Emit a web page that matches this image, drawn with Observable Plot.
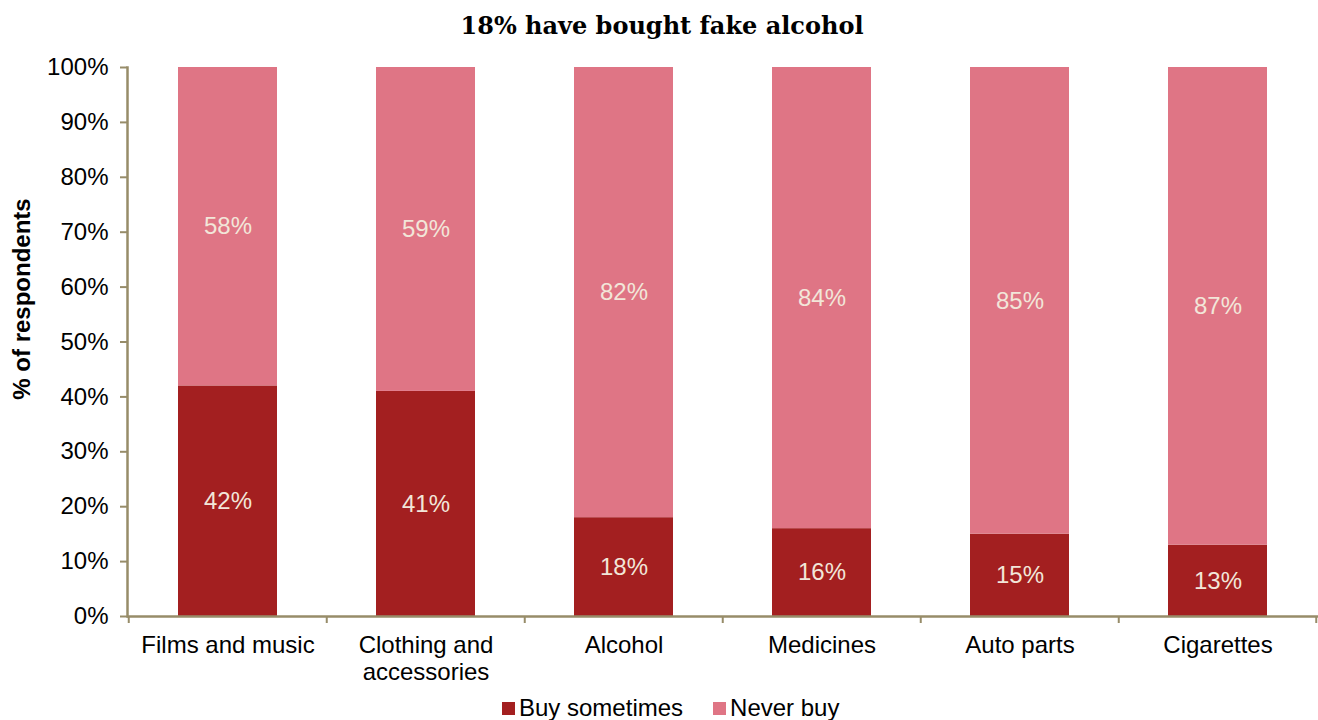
<!DOCTYPE html>
<html>
<head>
<meta charset="utf-8">
<script src="https://cdn.jsdelivr.net/npm/d3@7"></script>
<script src="https://cdn.jsdelivr.net/npm/@observablehq/plot@0.6"></script>
<style>
  html, body { margin: 0; padding: 0; background: #fff; }
  #wrap { position: relative; width: 1318px; height: 720px; overflow: hidden; font-family: "Liberation Sans", Arial, sans-serif; }
  #title { position: absolute; left: 3px; top: 8px; width: 1318px; text-align: center; font-family: "DejaVu Serif", Georgia, serif; font-weight: bold; font-size: 24px; line-height: 36px; color: #000; }
  #chart { position: absolute; left: 0; top: 50px; }
  #ylabel { position: absolute; left: 22px; top: 299px; transform: translate(-50%, -50%) rotate(-90deg); white-space: nowrap; font-weight: bold; font-size: 24px; color: #000; }
  #legend { position: absolute; left: 502px; top: 694px; display: flex; align-items: center; font-size: 24px; line-height: 28px; color: #000; }
  .item { display: flex; align-items: center; margin-right: 30px; }
  .sw { width: 13px; height: 13px; margin-right: 4px; }
</style>
</head>
<body>
<div id="wrap">
  <div id="title"></div>
  <div id="ylabel"></div>
  <div id="chart"></div>
  <div id="legend"></div>
</div>
<script>
const titleText = "18% have bought fake alcohol";
const yLabelText = "% of respondents";
const categories = ["Films and music", "Clothing and\naccessories", "Alcohol", "Medicines", "Auto parts", "Cigarettes"];
const buySometimes = [42, 41, 18, 16, 15, 13];
const neverBuy = [58, 59, 82, 84, 85, 87];
const seriesNames = ["Buy sometimes", "Never buy"];
const seriesColors = ["#A31F20", "#DF7585"];
const yTicks = [0, 10, 20, 30, 40, 50, 60, 70, 80, 90, 100];

const axisColor = "#978C69";
const labelColor = "#F2E6D9";
const W = 1318, H = 640, mL = 127, mR = 0, mT = 17, mB = 74;
const step = (W - mL - mR) / categories.length;

const data = categories.flatMap((c, i) => [
  {category: c, series: seriesNames[0], value: buySometimes[i]},
  {category: c, series: seriesNames[1], value: neverBuy[i]}
]);

document.getElementById("title").textContent = titleText;
document.getElementById("ylabel").textContent = yLabelText;

const chart = Plot.plot({
  width: W,
  height: H,
  marginLeft: mL,
  marginRight: mR,
  marginTop: mT,
  marginBottom: mB,
  style: {fontFamily: "'Liberation Sans', Arial, sans-serif", fontSize: "24px", color: "#000", background: "transparent"},
  x: {domain: categories, paddingInner: 0.5, paddingOuter: 0.25, label: null},
  y: {domain: [0, 100], label: null},
  color: {domain: seriesNames, range: seriesColors},
  marks: [
    Plot.barY(data, {x: "category", y: "value", fill: "series"}),
    Plot.text(data, Plot.stackY({x: "category", y: "value", z: "series", text: d => d.value + "%", fill: labelColor})),
    Plot.axisY({ticks: yTicks, tickFormat: d => d + "%", tickSize: 7, tickPadding: 12, stroke: axisColor, strokeWidth: 2, label: null}),
    Plot.axisX({tickSize: 0, tickPadding: 17, label: null, lineHeight: 1.13}),
    Plot.ruleX(categories, {x: d => d, y1: 0, y2: 0, dx: -step / 2, insetBottom: -7, stroke: axisColor, strokeWidth: 2}),
    Plot.ruleX(categories.slice(-1), {x: d => d, y1: 0, y2: 0, dx: step / 2 - 1, insetBottom: -7, stroke: axisColor, strokeWidth: 2}),
    Plot.ruleY([0], {stroke: axisColor, strokeWidth: 2.5}),
    Plot.frame({anchor: "left", stroke: axisColor, strokeWidth: 2.5})
  ]
});
document.getElementById("chart").appendChild(chart);

const legend = document.getElementById("legend");
seriesNames.forEach((name, i) => {
  const item = document.createElement("div");
  item.className = "item";
  const sw = document.createElement("div");
  sw.className = "sw";
  sw.style.background = seriesColors[i];
  const t = document.createElement("span");
  t.textContent = name;
  item.appendChild(sw);
  item.appendChild(t);
  legend.appendChild(item);
});
</script>
</body>
</html>
